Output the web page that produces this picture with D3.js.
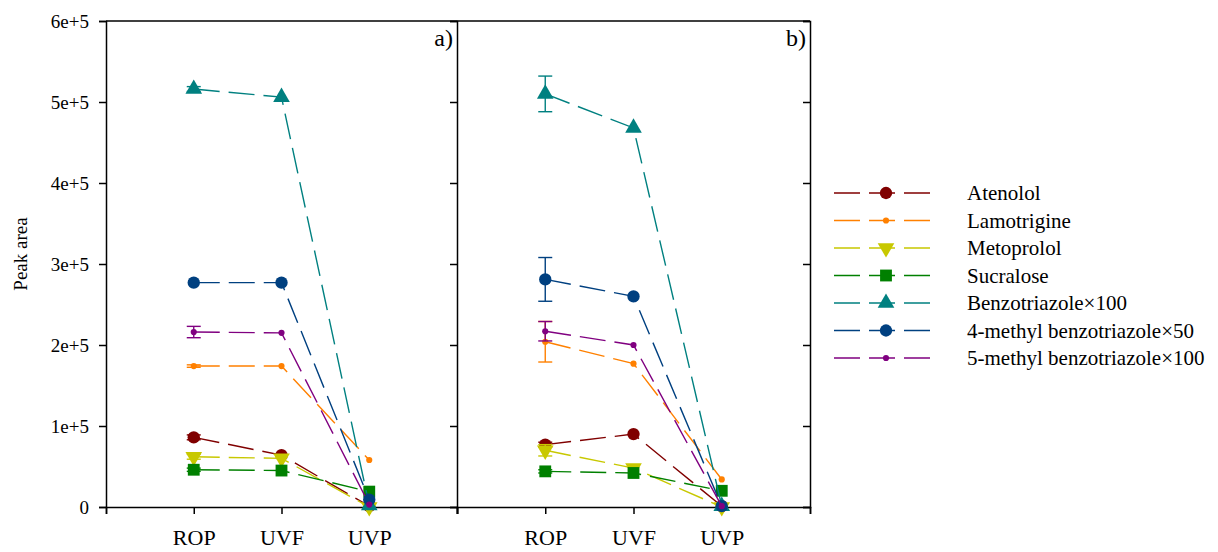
<!DOCTYPE html>
<html>
<head>
<meta charset="utf-8">
<script src="https://cdn.jsdelivr.net/npm/d3@7"></script>
<style>
  body { margin: 0; background: #fff; }
  svg text { font-family: "Liberation Serif", "DejaVu Serif", serif; }
</style>
</head>
<body>
<svg width="1218" height="552"></svg>
<script>
const categories = ["ROP", "UVF", "UVP"];
const seriesNames = ["Atenolol", "Lamotrigine", "Metoprolol", "Sucralose",
    "Benzotriazole×100", "4-methyl benzotriazole×50", "5-methyl benzotriazole×100"];
const yTicks = [0, 1e5, 2e5, 3e5, 4e5, 5e5, 6e5];

// panel a) values, one array per compound
const atenololA = [86000, 64000, 1000];
const lamotrigineA = [174000, 174000, 58000];
const metoprololA = [62000, 60000, 0];
const sucraloseA = [46000, 45000, 19000];
const benzoA = [516000, 506000, 2000];
const methyl4A = [277000, 277000, 9000];
const methyl5A = [216000, 215000, 3000];
const errA = [[3000, 0, 0], [1500, 0, 0], [3000, 0, 0], [2000, 0, 0], [3000, 0, 0], [0, 0, 0], [7000, 0, 0]];

// panel b)
const atenololB = [77000, 90000, 1000];
const lamotrigineB = [204000, 177000, 34000];
const metoprololB = [70000, 48000, 0];
const sucraloseB = [44000, 42000, 20000];
const benzoB = [510000, 468000, 1000];
const methyl4B = [281000, 260000, 1000];
const methyl5B = [217000, 200000, 1000];
const errB = [[3000, 0, 0], [25000, 0, 0], [7000, 0, 0], [2000, 0, 0], [22000, 0, 0], [27000, 0, 0], [12000, 0, 0]];

const colors = ["#800000", "#ff8000", "#c8c800", "#008000", "#008080", "#004080", "#800080"];
const symbols = [
    {type: d3.symbolCircle, size: 120, rot: 0},
    {type: d3.symbolCircle, size: 30, rot: 0},
    {type: d3.symbolTriangle, size: 120, rot: 180},
    {type: d3.symbolSquare, size: 140, rot: 0},
    {type: d3.symbolTriangle, size: 120, rot: 0},
    {type: d3.symbolCircle, size: 120, rot: 0},
    {type: d3.symbolCircle, size: 30, rot: 0}
];

const panels = [
    {label: "a)", left: 106, right: 457, values: [atenololA, lamotrigineA, metoprololA, sucraloseA, benzoA, methyl4A, methyl5A], err: errA},
    {label: "b)", left: 457, right: 810, values: [atenololB, lamotrigineB, metoprololB, sucraloseB, benzoB, methyl4B, methyl5B], err: errB}
];

const plotTop = 21, plotBottom = 507;
const serif = "Liberation Serif";
const svg = d3.select("svg");

const y = d3.scaleLinear().domain([0, 6e5]).range([plotBottom, plotTop]);
const dash = "26,9";

// y axis with labels
const yAxis = svg.append("g")
    .attr("transform", `translate(106,0)`)
    .call(d3.axisLeft(y).tickValues(yTicks).tickSize(7).tickPadding(10)
        .tickFormat(d => d === 0 ? "0" : `${d / 1e5}e+5`));
yAxis.attr("font-family", serif);
yAxis.selectAll("text").attr("font-size", 19).attr("fill", "#000");

// divider and right edge, inward ticks
[457, 810].forEach(xx => {
    svg.append("g")
        .attr("transform", `translate(${xx},0)`)
        .call(d3.axisLeft(y).tickValues(yTicks).tickSize(7).tickFormat(""));
});

svg.append("line")
    .attr("x1", 106).attr("x2", 810)
    .attr("y1", plotTop).attr("y2", plotTop)
    .attr("stroke", "#000").attr("stroke-width", 1.5);

panels.forEach(p => {
    const x = d3.scaleLinear().domain([0, 4]).range([p.left, p.right]);

    const xAxis = svg.append("g")
        .attr("transform", `translate(0,${plotBottom})`)
        .call(d3.axisBottom(x).tickValues([0, 1, 2, 3, 4]).tickSize(7).tickPadding(14)
            .tickFormat(d => categories[d - 1] || ""));
    xAxis.attr("font-family", serif);
    xAxis.selectAll("text").attr("font-size", 22).attr("fill", "#000").attr("dy", "0.75em");

    svg.append("text")
        .attr("x", p.right - 4)
        .attr("y", 46)
        .attr("text-anchor", "end")
        .attr("font-family", serif)
        .attr("font-size", 24)
        .text(p.label);

    const line = d3.line()
        .x((d, i) => x(i + 1))
        .y(d => y(d));

    p.values.forEach((vals, s) => {
        const g = svg.append("g");
        g.append("path")
            .attr("d", line(vals))
            .attr("fill", "none")
            .attr("stroke", colors[s])
            .attr("stroke-width", 1.4)
            .attr("stroke-dasharray", dash);

        vals.forEach((v, i) => {
            const e = p.err[s][i];
            if (e > 0) {
                const cx = x(i + 1);
                g.append("line")
                    .attr("x1", cx).attr("x2", cx)
                    .attr("y1", y(v - e)).attr("y2", y(v + e))
                    .attr("stroke", colors[s]).attr("stroke-width", 1.4);
                [v - e, v + e].forEach(t => {
                    g.append("line")
                        .attr("x1", cx - 7).attr("x2", cx + 7)
                        .attr("y1", y(t)).attr("y2", y(t))
                        .attr("stroke", colors[s]).attr("stroke-width", 1.4);
                });
            }
        });

        g.selectAll("path.marker")
            .data(vals)
            .join("path")
            .attr("class", "marker")
            .attr("d", d3.symbol().type(symbols[s].type).size(symbols[s].size))
            .attr("transform", (d, i) => `translate(${x(i + 1)},${y(d)}) rotate(${symbols[s].rot})`)
            .attr("fill", colors[s]);
    });
});

svg.selectAll(".domain, .tick line")
    .attr("stroke", "#000")
    .attr("stroke-width", 1.5);

svg.append("text")
    .attr("transform", "rotate(-90)")
    .attr("x", -254)
    .attr("y", 27)
    .attr("text-anchor", "middle")
    .attr("font-family", serif)
    .attr("font-size", 19)
    .text("Peak area");

// legend
const legend = svg.append("g").attr("transform", "translate(834,193)");
const items = legend.selectAll("g")
    .data(seriesNames)
    .join("g")
    .attr("transform", (d, i) => `translate(0,${i * 27.5})`);

items.append("line")
    .attr("x1", 0).attr("x2", 96)
    .attr("y1", 0).attr("y2", 0)
    .attr("stroke", (d, i) => colors[i])
    .attr("stroke-width", 1.4)
    .attr("stroke-dasharray", dash);

items.append("path")
    .attr("d", (d, i) => d3.symbol().type(symbols[i].type).size(symbols[i].size)())
    .attr("transform", (d, i) => `translate(52,0) rotate(${symbols[i].rot})`)
    .attr("fill", (d, i) => colors[i]);

items.append("text")
    .attr("x", 133)
    .attr("y", 7)
    .attr("font-family", serif)
    .attr("font-size", 21)
    .text(d => d);
</script>
</body>
</html>
